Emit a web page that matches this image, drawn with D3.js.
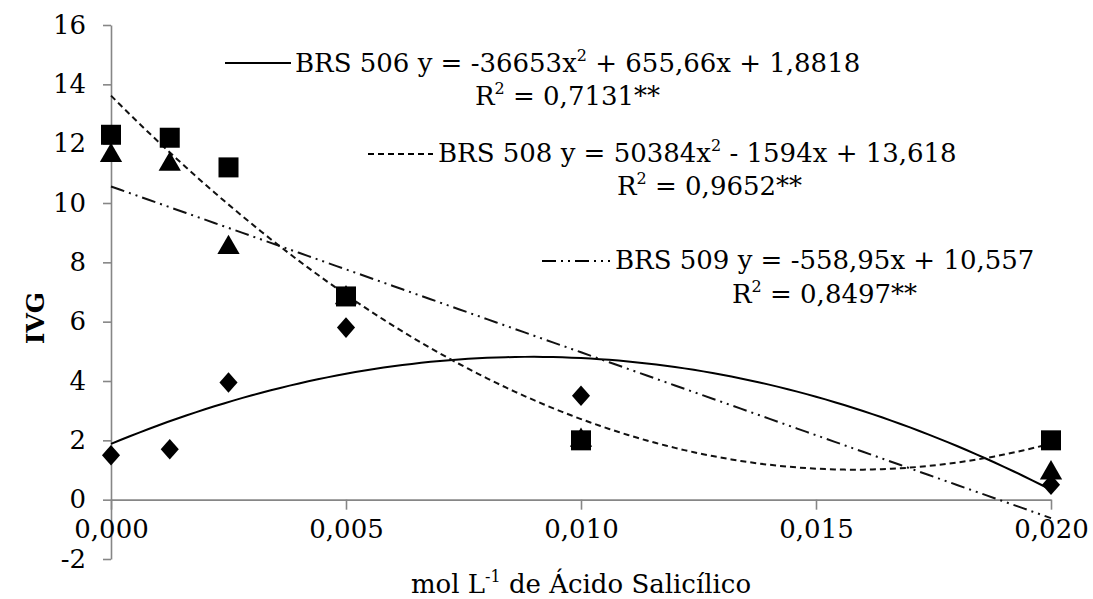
<!DOCTYPE html>
<html>
<head>
<meta charset="utf-8">
<script src="https://cdn.jsdelivr.net/npm/d3@7"></script>
<style>
  html, body { margin: 0; padding: 0; background: #fff; }
  svg { display: block; }
  text { font-family: "DejaVu Serif", serif; fill: #000; }
</style>
</head>
<body>
<svg id="chart" width="1093" height="599"></svg>
<script>
// ---- data ----
const xValues = [0, 0.00125, 0.0025, 0.005, 0.010, 0.020];
const brs506 = [1.5, 1.7, 3.95, 5.8, 3.5, 0.5];
const brs508 = [12.3, 12.2, 11.2, 6.85, 2.0, 2.0];
const brs509 = [11.6, 11.3, 8.5, 6.8, 2.0, 0.9];
// trendline coefficients [a2, a1, a0]: y = a2*x^2 + a1*x + a0
const coef506 = [-36653, 655.66, 1.8818];
const coef508 = [50384, -1594, 13.618];
const coef509 = [0, -558.95, 10.557];
const xTicks = [0, 0.005, 0.010, 0.015, 0.020];
const xTickLabels = ["0,000", "0,005", "0,010", "0,015", "0,020"];
const yTicks = [-2, 0, 2, 4, 6, 8, 10, 12, 14, 16];
const yTickLabels = ["-2", "0", "2", "4", "6", "8", "10", "12", "14", "16"];

const svg = d3.select("#chart");
const pLeft = 111, pRight = 1051, pTop = 25, pBottom = 559;
const x = d3.scaleLinear().domain([0, 0.020]).range([pLeft, pRight]);
const y = d3.scaleLinear().domain([-2, 16]).range([pBottom, pTop]);
const axisColor = "#868686";

// y axis
const gy = svg.append("g").attr("transform", `translate(${x(0)},0)`)
  .call(d3.axisLeft(y).tickValues(yTicks).tickFormat((d, i) => yTickLabels[i])
    .tickSize(8).tickSizeOuter(0).tickPadding(17));
gy.selectAll("path, line").attr("stroke", axisColor).attr("stroke-width", 1.6);
gy.selectAll("text").attr("font-family", "DejaVu Serif").attr("font-size", 26).attr("fill", "#111");

// x axis at y = 0
const gx = svg.append("g").attr("transform", `translate(0,${y(0)})`)
  .call(d3.axisBottom(x).tickValues(xTicks).tickFormat((d, i) => xTickLabels[i])
    .tickSize(10).tickSizeOuter(0).tickPadding(10));
gx.selectAll("path, line").attr("stroke", axisColor).attr("stroke-width", 1.6);
gx.selectAll("text").attr("font-family", "DejaVu Serif").attr("font-size", 26).attr("fill", "#111");

// axis titles
svg.append("text").attr("x", (pLeft + pRight) / 2).attr("y", 593)
  .attr("text-anchor", "middle").attr("font-size", 26)
  .call(t => {
    t.append("tspan").text("mol L");
    t.append("tspan").attr("font-size", 16).attr("dy", -11).text("-1");
    t.append("tspan").attr("dy", 11).text(" de Ácido Salicílico");
  });
svg.append("text").attr("transform", "translate(44,318) rotate(-90)")
  .attr("text-anchor", "middle").attr("font-size", 25).attr("font-weight", "bold").text("IVG");

// trendlines
const samples = d3.range(0, 0.0200001, 0.0002);
function poly(c) { return v => c[0] * v * v + c[1] * v + c[2]; }
const lineGen = f => d3.line().x(d => x(d)).y(d => y(f(d)));
svg.append("path").datum(samples).attr("d", lineGen(poly(coef506)))
  .attr("fill", "none").attr("stroke", "#000").attr("stroke-width", 2);
svg.append("path").datum(samples).attr("d", lineGen(poly(coef508)))
  .attr("fill", "none").attr("stroke", "#111").attr("stroke-width", 2).attr("stroke-dasharray", "6,4");
svg.append("path").datum(samples).attr("d", lineGen(poly(coef509)))
  .attr("fill", "none").attr("stroke", "#111").attr("stroke-width", 2).attr("stroke-dasharray", "14,5,2,5,2,5");

// markers
const sym = (type, size) => d3.symbol().type(type).size(size);
svg.append("g").selectAll("path").data(xValues).join("path")
  .attr("transform", (d, i) => `translate(${x(d)},${y(brs506[i])}) scale(0.88,1)`)
  .attr("d", sym(d3.symbolDiamond2, 270)).attr("fill", "#000");
svg.append("g").selectAll("path").data(xValues).join("path")
  .attr("transform", (d, i) => `translate(${x(d)},${y(brs509[i])})`)
  .attr("d", sym(d3.symbolTriangle, 215)).attr("fill", "#000");
svg.append("g").selectAll("rect").data(xValues).join("rect")
  .attr("x", d => x(d) - 10).attr("y", (d, i) => y(brs508[i]) - 10)
  .attr("width", 20).attr("height", 20).attr("fill", "#000");

// legend / equation labels
function eqLabel(lx1, lx2, ly, dash, tx, ty, parts, rx, ry, r2) {
  svg.append("line").attr("x1", lx1).attr("x2", lx2).attr("y1", ly).attr("y2", ly)
    .attr("stroke", "#000").attr("stroke-width", 2).attr("stroke-dasharray", dash);
  const t = svg.append("text").attr("x", tx).attr("y", ty).attr("font-size", 26);
  let shift = 0;
  parts.forEach(p => {
    if (p.sup) {
      t.append("tspan").attr("font-size", 16).attr("dy", -11).text(p.sup);
      shift = 11;
    } else {
      t.append("tspan").attr("dy", shift).text(p.t);
      shift = 0;
    }
  });
  const r = svg.append("text").attr("x", rx).attr("y", ry).attr("font-size", 26);
  r.append("tspan").text("R");
  r.append("tspan").attr("font-size", 16).attr("dy", -11).text("2");
  r.append("tspan").attr("dy", 11).text(" = " + r2);
}
eqLabel(225, 291, 63, null, 295, 72,
  [{t: "BRS 506 y = -36653x"}, {sup: "2"}, {t: " + 655,66x + 1,8818"}], 475, 105, "0,7131**");
eqLabel(368, 433, 154, "6,4", 438, 162,
  [{t: "BRS 508 y = 50384x"}, {sup: "2"}, {t: " - 1594x + 13,618"}], 617, 195, "0,9652**");
eqLabel(542, 610, 261, "14,5,2,5,2,5", 615, 269,
  [{t: "BRS 509 y = -558,95x + 10,557"}], 732, 303, "0,8497**");
</script>
</body>
</html>
